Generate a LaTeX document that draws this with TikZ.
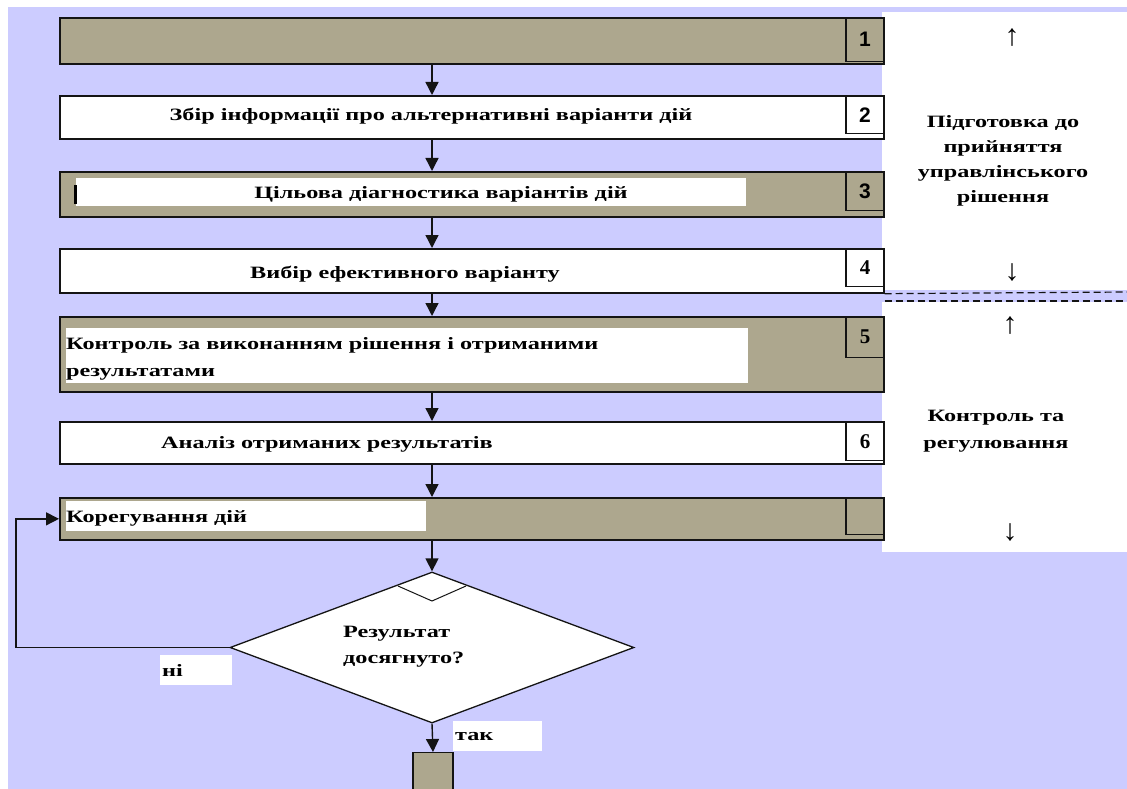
\documentclass[tikz,border=0pt]{standalone}
\usepackage{fontspec}
\usetikzlibrary{arrows.meta,shapes.geometric}
\newfontfamily\lblfont{Liberation Serif}[FakeStretch=1.4]
\newfontfamily\numsans{Liberation Sans}
\newfontfamily\numserif{Liberation Serif}
\newfontfamily\arrfont{Liberation Serif}
\definecolor{bgblue}{HTML}{CCCCFF}
\definecolor{olive}{HTML}{ADA78E}
\definecolor{edge}{HTML}{141414}
\begin{document}
\begin{tikzpicture}[x=1pt,y=-1pt,
  box/.style={draw=edge,line width=1.7pt,minimum width=824pt,anchor=north west,inner sep=0pt},
  olivebox/.style={box,fill=olive},
  whitebox/.style={box,fill=white},
  numbox/.style={draw=edge,line width=1.4pt,minimum width=38pt,anchor=north east,inner sep=0pt},
  sansnum/.style={font=\numsans\bfseries\fontsize{21}{22}\selectfont},
  serifnum/.style={font=\numserif\bfseries\fontsize{21}{22}\selectfont},
  lbl/.style={font=\lblfont\bfseries\fontsize{17.3}{19}\selectfont,inner sep=0pt},
  side/.style={lbl,align=center},
  sidearrow/.style={font=\arrfont\fontsize{30}{32}\selectfont,inner sep=0pt},
  flow/.style={draw=edge,line width=1.4pt,-{Triangle[width=13pt,length=13pt]}},
  tag/.style={fill=white,anchor=north west,inner xsep=2pt,inner ysep=0pt,text width=1pt,align=left},
  sep/.style={draw=edge,line width=1.2pt,dash pattern=on 7pt off 4pt}
]
\useasboundingbox (0,0) rectangle (1127,789);
\clip (0,0) rectangle (1127,789);

% backdrop and side panels
\fill[bgblue] (8,7) rectangle (1127,789);
\fill[white] (882,12) rectangle (1127,290);
\fill[white] (882,302) rectangle (1127,552);

% axis of the flow
\coordinate (ax) at (432,0);

% process boxes
\node[olivebox,minimum height=46pt] (b1) at (59,17) {};
\node[whitebox,minimum height=43pt] (b2) at (59,95) {};
\node[olivebox,minimum height=45pt] (b3) at (59,171) {};
\node[whitebox,minimum height=44pt] (b4) at (59,248) {};
\node[olivebox,minimum height=75pt] (b5) at (59,316) {};
\node[whitebox,minimum height=42pt] (b6) at (59,421) {};
\node[olivebox,minimum height=42pt] (b7) at (59,497) {};

% white text fields inside the shaded boxes
\fill[white] (76,178) rectangle (746,206);
\fill[black] (74,185) rectangle (77,204);
\fill[white] (66,328) rectangle (748,383);
\fill[white] (66,501) rectangle (426,531);

% step numbers
\node[numbox,minimum height=44pt,sansnum] (n1) at (b1.north east) {1};
\node[numbox,minimum height=38pt,sansnum] (n2) at (b2.north east) {2};
\node[numbox,minimum height=39pt,sansnum] (n3) at (b3.north east) {3};
\node[numbox,minimum height=38pt,serifnum] (n4) at (b4.north east) {4};
\node[numbox,minimum height=41pt,serifnum] (n5) at (b5.north east) {5};
\node[numbox,minimum height=39pt,serifnum] (n6) at (b6.north east) {6};
\node[numbox,minimum height=37pt] (n7) at (b7.north east) {};

% box texts
\node[lbl,anchor=base] (t2) at (431,121) {Збір інформації про альтернативні варіанти дій};
\node[lbl,anchor=base] (t3) at (441,198) {Цільова діагностика варіантів дій};
\node[lbl,anchor=base] (t4) at (405,278) {Вибір ефективного варіанту};
\node[lbl,anchor=base west] (t5a) at (66,349) {Контроль за виконанням рішення і отриманими};
\node[lbl,anchor=base west] (t5b) at (66,376) {результатами};
\node[lbl,anchor=base] (t6) at (327,448) {Аналіз отриманих результатів};
\node[lbl,anchor=base west] (t7) at (66,522) {Корегування дій};

% decision
\node[diamond,draw=edge,fill=white,line width=1.3pt,minimum width=404pt,minimum height=151pt,inner sep=0pt] (dec) at (432,647.5) {};
\draw[edge,line width=1pt] (398,586) -- (432,601) -- (466,586);
\node[lbl,anchor=base west] (q1) at (343,637) {Результат};
\node[lbl,anchor=base west] (q2) at (343,663) {досягнуто?};

% end box
\node[draw=edge,fill=olive,line width=1.3pt,minimum width=40pt,minimum height=60pt,anchor=north,inner sep=0pt] (fin) at (433,752) {};

% connectors
\draw[flow] (b1.south -| ax) -- (b2.north -| ax);
\draw[flow] (b2.south -| ax) -- (b3.north -| ax);
\draw[flow] (b3.south -| ax) -- (b4.north -| ax);
\draw[flow] (b4.south -| ax) -- (b5.north -| ax);
\draw[flow] (b5.south -| ax) -- (b6.north -| ax);
\draw[flow] (b6.south -| ax) -- (b7.north -| ax);
\draw[flow] (b7.south -| ax) -- (dec.north);
\draw[flow] (dec.south) -- (fin.north);
\coordinate (loopc) at (16,647.5);
\draw[flow] (dec.west) -- (loopc) |- (b7.west);

% branch labels
\node[tag,lbl,minimum width=72pt,minimum height=30pt,text width=68pt,inner xsep=2pt] (no) at (160,655) {ні};
\node[tag,lbl,minimum width=89pt,minimum height=30pt,text width=85pt,inner xsep=2pt] (yes) at (453,721) {так};

% phase separators
\draw[sep] (b4.south east) -- (1127,292);
\coordinate (sep2) at (1127,301);
\draw[sep] (sep2 -| b4.east) -- (sep2);

% phase captions (base anchor sits on the last line)
\node[sidearrow] (u1) at (1012,38) {↑};
\node[side,anchor=base] (p1) at (1003,202) {Підготовка до\\[6pt]прийняття\\[6pt]управлінського\\[6pt]рішення};
\node[sidearrow] (d1) at (1012,273) {↓};
\node[sidearrow] (u2) at (1010,326) {↑};
\node[side,anchor=base] (p2) at (996,448) {Контроль та\\[8pt]регулювання};
\node[sidearrow] (d2) at (1010,533) {↓};
\end{tikzpicture}
\end{document}
